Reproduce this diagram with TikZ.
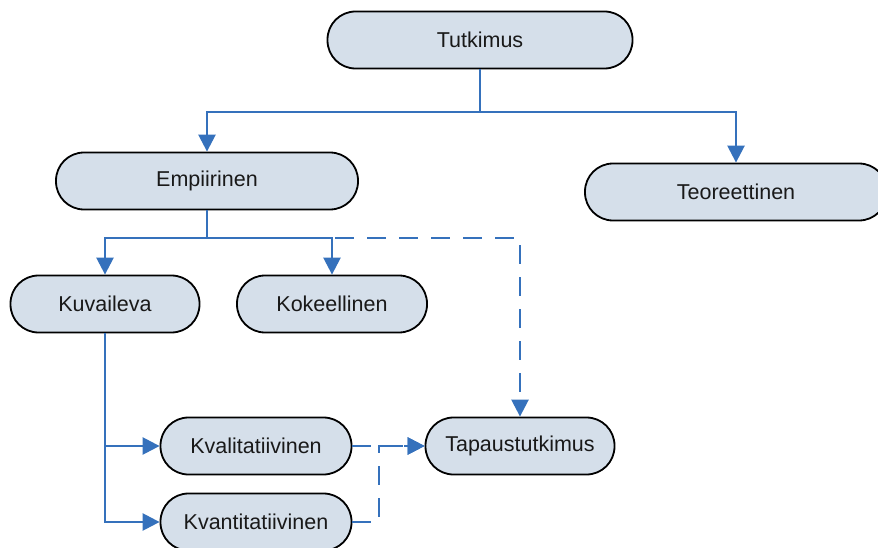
\documentclass[tikz,border=0pt]{standalone}
\usepackage{fontspec}
\setmainfont{Liberation Sans}
\usetikzlibrary{arrows.meta}
\definecolor{boxfill}{HTML}{D5DFEA}
\definecolor{linkblue}{HTML}{3571BC}
\tikzset{
  box/.style={draw=black, line width=1.8pt, fill=boxfill, rounded corners=28pt,
    minimum height=57pt, inner sep=0pt, font=\fontsize{21.5}{25}\selectfont, text=black!90},
  link/.style={draw=linkblue, line width=2.5pt,
    -{Triangle[width=17pt,length=17pt]}},
  plain/.style={draw=linkblue, line width=2.5pt},
  dashlink/.style={link, dash pattern=on 19pt off 13pt}
}
\begin{document}
\begin{tikzpicture}[x=1pt, y=-1pt]
  \useasboundingbox (0,0) rectangle (878,548);
  \clip (0,0) rectangle (878,548);

  % boxes
  \node[box, minimum width=305pt] (tut)  at (480,40)  {Tutkimus};
  \node[box, minimum width=302pt] (emp)  at (207,181) {Empiirinen};
  \node[box, minimum width=302pt] (teo)  at (736,192) {Teoreettinen};
  \node[box, minimum width=189pt] (kuv)  at (105,304) {Kuvaileva};
  \node[box, minimum width=190pt] (kok)  at (332,304) {Kokeellinen};
  \node[box, minimum width=191pt] (kval) at (256,446) {Kvalitatiivinen};
  \node[box, minimum width=191pt] (kvan) at (256,522) {Kvantitatiivinen};
  \node[box, minimum width=189pt] (tapa) at (520,446) {Tapaustutkimus};

  % branch points
  \coordinate (bus1) at (480,112);
  \coordinate (bus2) at (207,238);
  \coordinate (join) at (379,522);

  % top level
  \draw[plain] (tut.south) -- (bus1);
  \draw[link] (bus1) -| (emp.north);
  \draw[link] (bus1) -| (teo.north);

  % empirical branches
  \draw[dashlink] (bus2) -| (tapa.north);
  \draw[plain] (emp.south) -- (bus2);
  \draw[link] (bus2) -| (kuv.north);
  \draw[link] (bus2) -| (kok.north);

  % descriptive branches
  \draw[link] (kuv.south) |- (kval.west);
  \draw[link] (kuv.south) |- (kvan.west);

  % case study links
  \draw[dashlink] (kval.east) -- (tapa.west);
  \draw[dashlink] (kvan.east) -- (join) |- (tapa.west);
\end{tikzpicture}
\end{document}
